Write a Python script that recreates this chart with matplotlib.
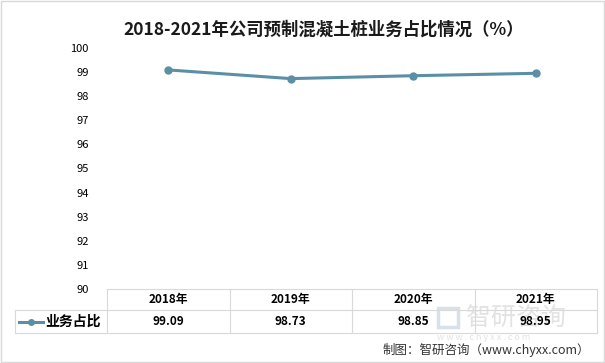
import matplotlib.pyplot as plt
from matplotlib.lines import Line2D

plt.rcParams['font.family'] = ['Noto Sans CJK SC', 'DejaVu Sans']

years = ["2018年", "2019年", "2020年", "2021年"]
share = [99.09, 98.73, 98.85, 98.95]
series_name = "业务占比"
title = "2018-2021年公司预制混凝土桩业务占比情况（%）"
yticks = list(range(90, 101))

W, H = 605, 363
line_color = "#5B8FA6"
grid_color = "#D9D9D9"

fig = plt.figure(figsize=(W / 100, H / 100), dpi=100)

def fx(px):
    return px / W

def fy(py):
    return 1 - py / H

# plot area
x0, x1 = 107, 597
ytop, ybot = 48, 289
ax = fig.add_axes([fx(x0), fy(ybot), fx(x1) - fx(x0), fy(ytop) - fy(ybot)])
xs = [i + 0.5 for i in range(len(years))]
ax.plot(xs, share, color=line_color, lw=2.2, marker="o", ms=5)
ax.set_xlim(0, len(years))
ax.set_ylim(90, 100)
ax.set_yticks(yticks)
ax.set_yticklabels([str(t) for t in yticks], fontsize=8)
ax.tick_params(axis="y", length=0, pad=13)
ax.set_xticks([])
for s in ax.spines.values():
    s.set_visible(False)

# figure border
fig.add_artist(plt.Rectangle((fx(1), fy(362)), fx(603), fy(1) - fy(362),
                             fill=False, ec="#D9D9D9", lw=1, transform=fig.transFigure))

# title
fig.text(fx(324), fy(30), title, ha="center", va="center", fontsize=12.5, fontweight="bold",
         color="#1a1a1a")

# watermark (behind table text)
fig.text(fx(466), fy(318), "智研咨询", ha="left", va="center", fontsize=18, color="#D0D0D0",
         alpha=0.6, zorder=0)
fig.text(fx(437), fy(337), "w w w . c h y x x . c o m", ha="left", va="center", fontsize=6.5,
         color="#D0D0D0", alpha=0.6, zorder=0)
fig.add_artist(plt.Rectangle((fx(438), fy(327)), fx(20), fy(308) - fy(327), fill=False,
                             ec="#C8D4E0", lw=2.5, alpha=0.7, transform=fig.transFigure,
                             zorder=0))

# data table
tleft = 15
r0, r1, r2 = 289, 310, 333
col_w = (x1 - x0) / len(years)
def hline(y, xa, xb):
    fig.add_artist(Line2D([fx(xa), fx(xb)], [fy(y), fy(y)], color=grid_color, lw=0.8,
                          transform=fig.transFigure))
def vline(x, ya, yb):
    fig.add_artist(Line2D([fx(x), fx(x)], [fy(ya), fy(yb)], color=grid_color, lw=0.8,
                          transform=fig.transFigure))
hline(r0, x0, x1)
hline(r1, tleft, x1)
hline(r2, tleft, x1)
vline(tleft, r1, r2)
for i in range(len(years) + 1):
    vline(x0 + i * col_w, r0, r2)

for i, (yr, v) in enumerate(zip(years, share)):
    cx = x0 + (i + 0.5) * col_w
    fig.text(fx(cx), fy((r0 + r1) / 2), yr, ha="center", va="center", fontsize=8.5,
             fontweight="bold")
    fig.text(fx(cx), fy((r1 + r2) / 2), f"{v:.2f}", ha="center", va="center", fontsize=8.5,
             fontweight="bold")

ym = (r1 + r2) / 2
fig.add_artist(Line2D([fx(19), fx(43)], [fy(ym), fy(ym)], color=line_color, lw=2.2,
                      transform=fig.transFigure))
fig.add_artist(Line2D([fx(31)], [fy(ym)], color=line_color, marker="o", ms=4,
                      transform=fig.transFigure))
fig.text(fx(45), fy(ym), series_name, ha="left", va="center", fontsize=10, fontweight="bold")

# source
fig.text(fx(590), fy(350), "制图：智研咨询（www.chyxx.com）", ha="right", va="center",
         fontsize=9, color="#333333")

fig.savefig("out.png", dpi=100)
